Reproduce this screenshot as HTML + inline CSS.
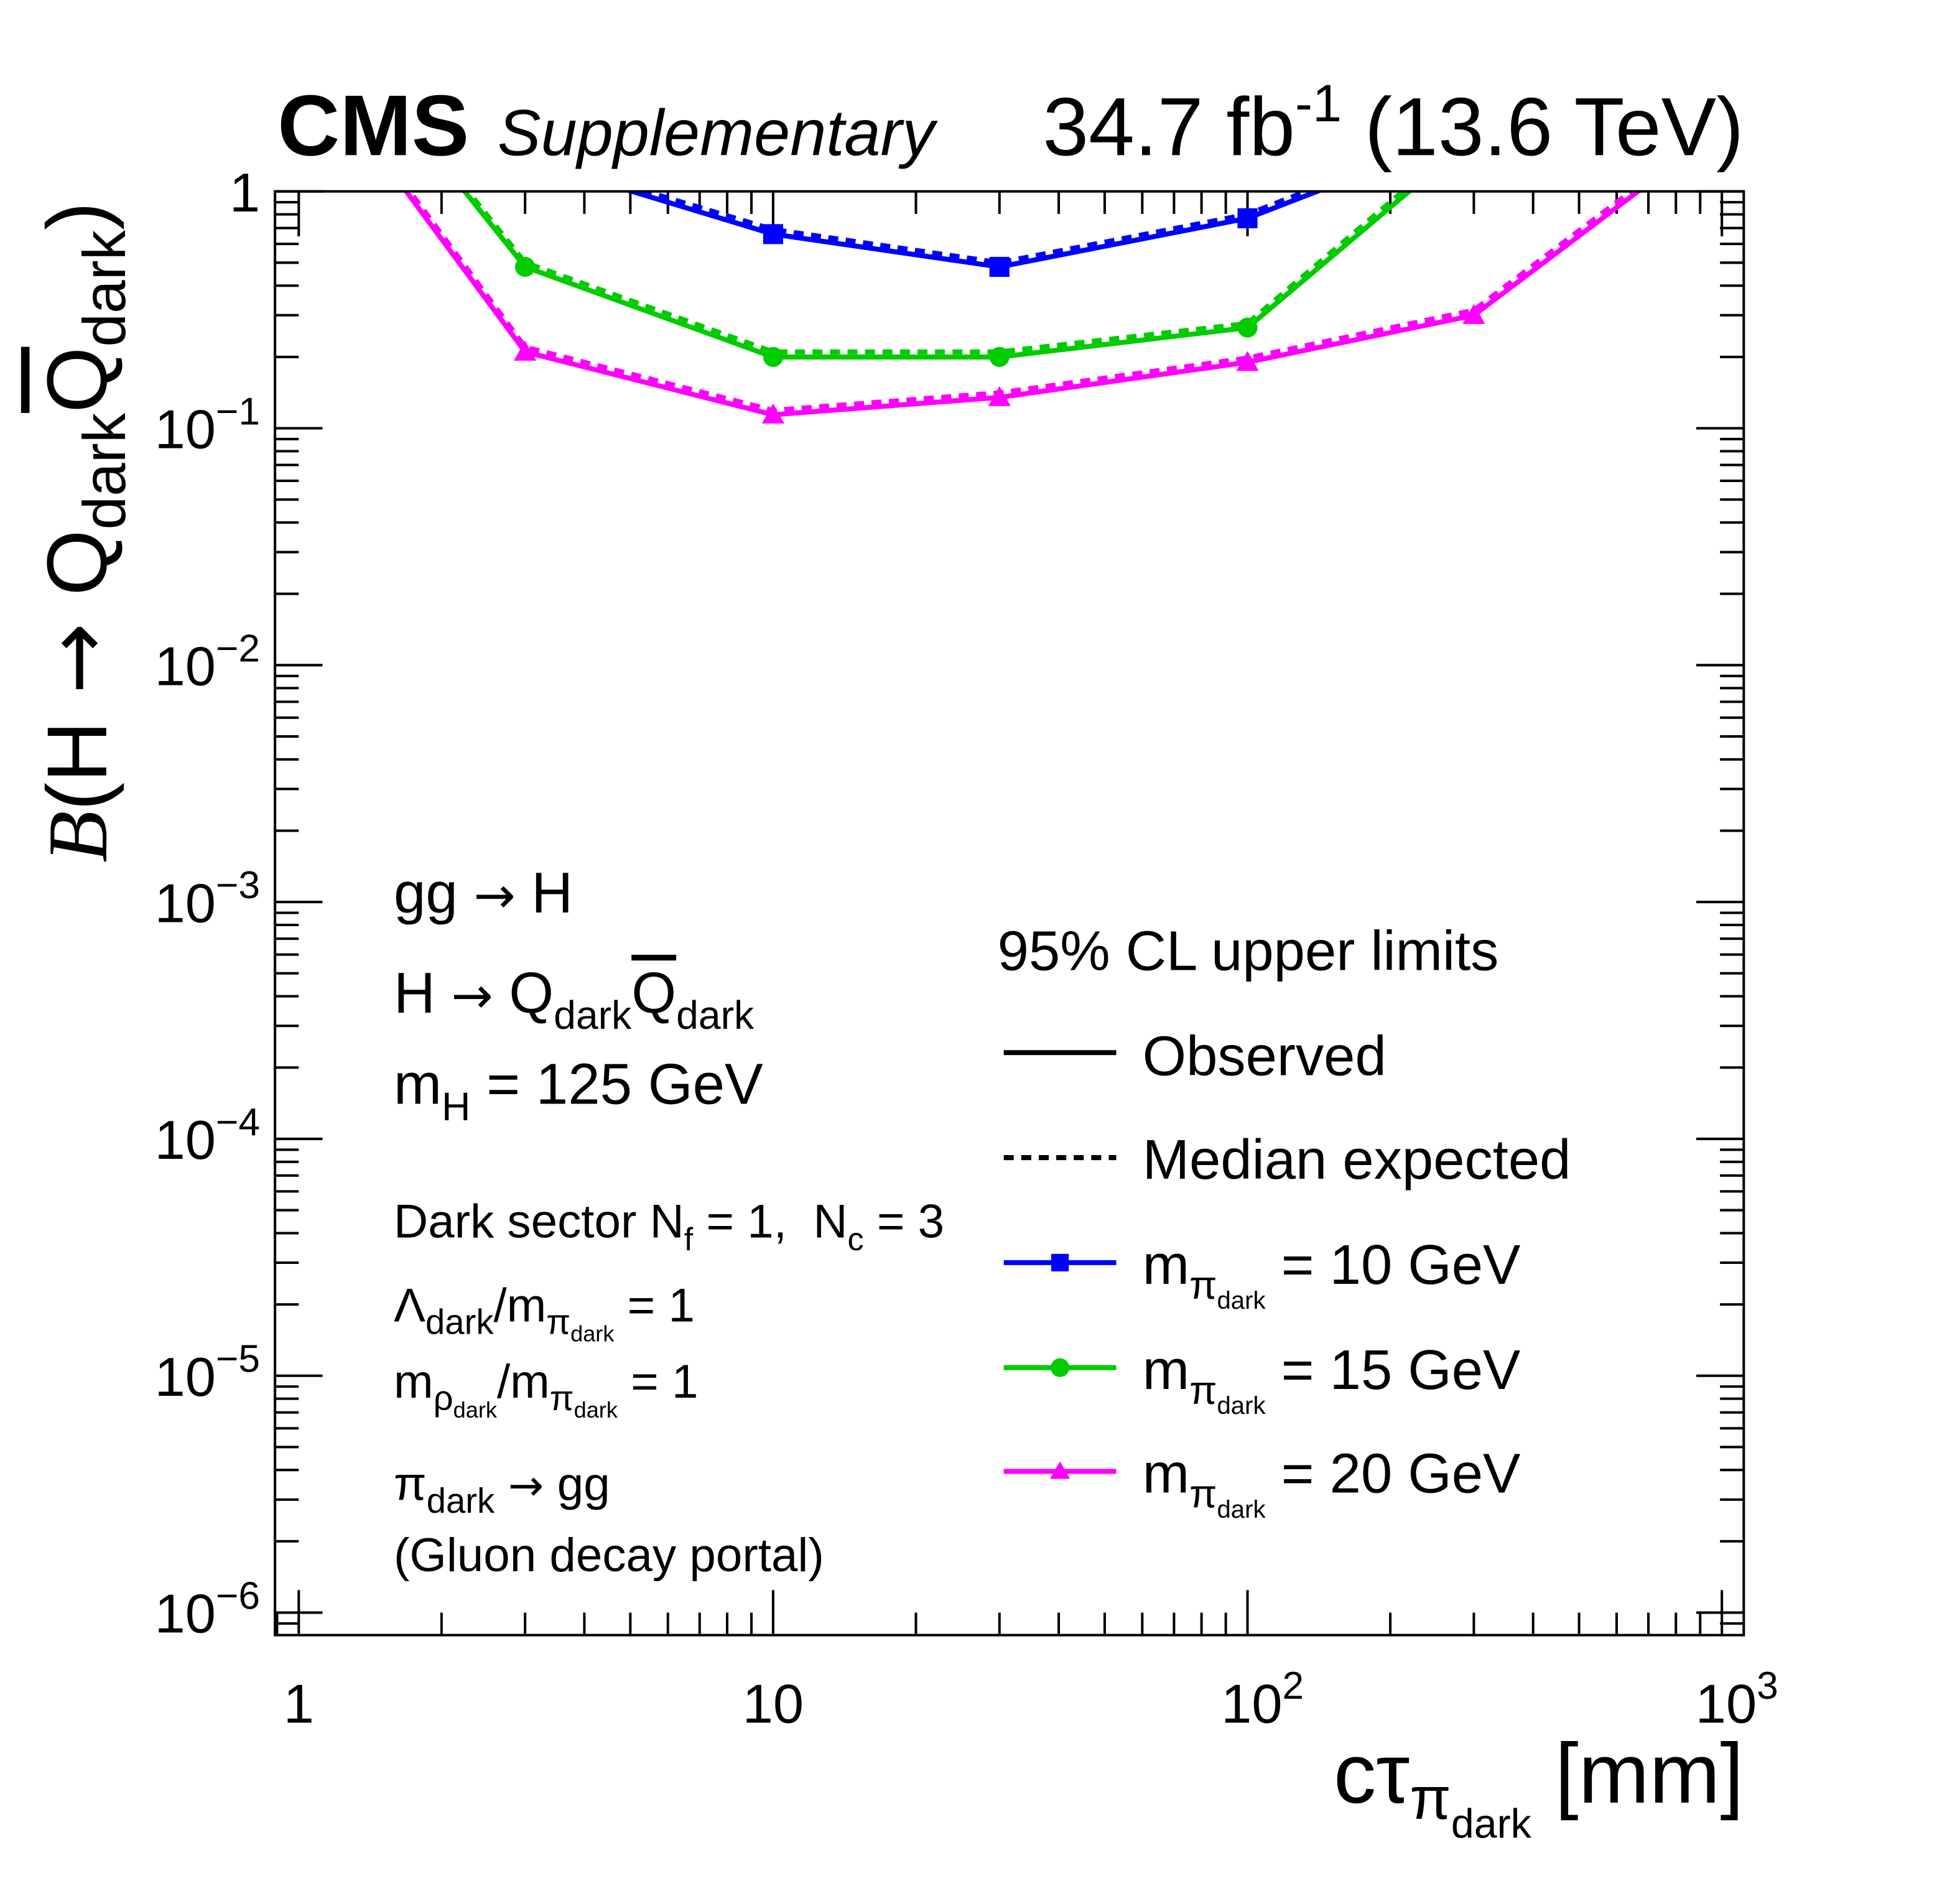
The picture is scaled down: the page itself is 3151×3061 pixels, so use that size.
<!DOCTYPE html>
<html><head><meta charset="utf-8"><style>
html,body{margin:0;padding:0;background:#fff;}
svg{display:block;font-family:"Liberation Sans",sans-serif;}
.ar{font-family:"DejaVu Sans",sans-serif;}
</style></head><body>
<svg id="chart" width="3151" height="3061" viewBox="0 0 1568 1523" xmlns="http://www.w3.org/2000/svg">
<defs><clipPath id="clip"><rect x="220" y="153" width="1175" height="1155"/></clipPath></defs>
<g id="ticks"></g>
<g id="series" clip-path="url(#clip)"></g>
<rect x="220" y="153" width="1175" height="1155" fill="none" stroke="#000" stroke-width="2"/>
<g id="labels" font-size="44"></g>

<text x="222" y="124" font-size="69" font-weight="bold">CMS</text>
<text x="398" y="124" font-size="52" font-style="italic">Supplementary</text>
<text x="1395" y="124" font-size="66" text-anchor="end">34.7 fb<tspan dy="-27" font-size="42">-1</tspan><tspan dy="27"> (13.6 TeV)</tspan></text>

<text transform="translate(85,690) rotate(-90)" font-size="68"><tspan font-family="Liberation Serif" font-style="italic">B</tspan>(H<tspan class="ar"> → </tspan>Q<tspan dy="15" font-size="48">dark</tspan><tspan dy="-15" text-decoration="overline">Q</tspan><tspan dy="15" font-size="48">dark</tspan><tspan dy="-15">)</tspan></text>
<text x="1395" y="1442" font-size="68" text-anchor="end">cτ<tspan dy="13" font-size="48">π</tspan><tspan dy="15" font-size="33">dark</tspan><tspan dy="-28"> [mm]</tspan></text>

<g font-size="46">
<text x="315" y="730">gg<tspan class="ar" font-size="40"> → </tspan>H</text>
<text x="315" y="810">H<tspan class="ar" font-size="40"> → </tspan>Q<tspan dy="13" font-size="32">dark</tspan><tspan dy="-13" text-decoration="overline">Q</tspan><tspan dy="13" font-size="32">dark</tspan></text>
<text x="315" y="883">m<tspan dy="13" font-size="32">H</tspan><tspan dy="-13"> = 125 GeV</tspan></text>
<g font-size="38">
<text x="315" y="990">Dark sector N<tspan dy="10" font-size="26">f</tspan><tspan dy="-10" xml:space="preserve"> = 1,  N</tspan><tspan dy="10" font-size="26">c</tspan><tspan dy="-10"> = 3</tspan></text>
<text x="315" y="1057">Λ<tspan dy="10" font-size="28">dark</tspan><tspan dy="-10">/m</tspan><tspan dy="10" font-size="28">π</tspan><tspan dy="6" font-size="18">dark</tspan><tspan dy="-16"> = 1</tspan></text>
<text x="315" y="1118">m<tspan dy="10" font-size="28">ρ</tspan><tspan dy="6" font-size="18">dark</tspan><tspan dy="-16">/m</tspan><tspan dy="10" font-size="28">π</tspan><tspan dy="6" font-size="18">dark</tspan><tspan dy="-16"> = 1</tspan></text>
<text x="315" y="1200">π<tspan dy="10" font-size="28">dark</tspan><tspan dy="-10" class="ar" font-size="34"> → </tspan>gg</text>
<text x="315" y="1257">(Gluon decay portal)</text>
</g></g>

<g font-size="45">
<text x="798" y="776">95% CL upper limits</text>
<g><line x1="803" y1="842" x2="893" y2="842" stroke="#000" stroke-width="4"/><text x="914" y="860">Observed</text></g>
<g><line x1="803" y1="926" x2="893" y2="926" stroke="#000" stroke-width="4" stroke-dasharray="8,6"/><text x="914" y="943">Median expected</text></g>
<g><line x1="803" y1="1010" x2="893" y2="1010" stroke="#0000ff" stroke-width="4"/><rect x="841" y="1003" width="14" height="14" fill="#0000ff"/><text x="914" y="1027">m<tspan dy="12" font-size="32">π</tspan><tspan dy="8" font-size="20">dark</tspan><tspan dy="-20"> = 10 GeV</tspan></text></g>
<g><line x1="803" y1="1094" x2="893" y2="1094" stroke="#00cc00" stroke-width="4"/><circle cx="848" cy="1094" r="7.5" fill="#00cc00"/><text x="914" y="1111">m<tspan dy="12" font-size="32">π</tspan><tspan dy="8" font-size="20">dark</tspan><tspan dy="-20"> = 15 GeV</tspan></text></g>
<g><line x1="803" y1="1177" x2="893" y2="1177" stroke="#ff00ff" stroke-width="4"/><path d="M848,1169 L856,1183 L840,1183 Z" fill="#ff00ff"/><text x="914" y="1194">m<tspan dy="12" font-size="32">π</tspan><tspan dy="8" font-size="20">dark</tspan><tspan dy="-20"> = 20 GeV</tspan></text></g>
</g>

<script>
const ctau = [1, 3, 10, 30, 100, 300, 1000];
const obs10 = [5.0, 1.37, 0.66, 0.48, 0.77, 1.8, 4.0];
const exp10 = [5.2, 1.42, 0.69, 0.50, 0.80, 1.9, 4.2];
const obs15 = [7.5, 0.48, 0.20, 0.20, 0.266, 1.7, 8.0];
const exp15 = [7.8, 0.50, 0.21, 0.21, 0.277, 1.8, 8.4];
const obs20 = [4.1, 0.21, 0.114, 0.135, 0.19, 0.30, 1.85];
const exp20 = [4.3, 0.22, 0.119, 0.141, 0.198, 0.315, 1.95];
const markX10 = [10, 30, 100];
const markX15 = [3, 10, 30, 100];
const markX20 = [3, 10, 30, 100, 300];
const xTickLabels = ["1", "10", "10^2", "10^3"];
const yTickLabels = ["1", "10^-1", "10^-2", "10^-3", "10^-4", "10^-5", "10^-6"];

const NS = "http://www.w3.org/2000/svg";
const X0 = 239, XD = 379.5, Y0 = 153, YD = 189.5;
const L = 220, R = 1395, T = 153, B = 1308;
function sx(v){ return X0 + XD*Math.log10(v); }
function sy(v){ return Y0 - YD*Math.log10(v); }
function mk(tag, attrs, parent){ const e=document.createElementNS(NS,tag); for(const k in attrs) e.setAttribute(k,attrs[k]); parent.appendChild(e); return e; }

const tg = document.getElementById('ticks');
for (let d=0; d<=3; d++){
  for (let m=1; m<=9; m++){
    const v = m*Math.pow(10,d);
    const x = sx(v);
    if (x < L || x > R) continue;
    const len = m===1 ? 36 : 18;
    const t1 = mk('line',{x1:x,y1:B,x2:x,y2:B-len,stroke:'#000','stroke-width':2},tg);
    
    
    mk('line',{x1:x,y1:T,x2:x,y2:T+len,stroke:'#000','stroke-width':2},tg);
  }
}
{ const x=sx(0.9); if(x>=L){ mk('line',{x1:x,y1:B,x2:x,y2:B-18,stroke:'#000','stroke-width':2},tg);} }
for (let d=-7; d<=0; d++){
  for (let m=1; m<=9; m++){
    const v = m*Math.pow(10,d);
    const y = sy(v);
    if (y < T-0.5 || y > B) continue;
    const len = m===1 ? 38 : 19;
    const t2 = mk('line',{x1:L,y1:y,x2:L+len,y2:y,stroke:'#000','stroke-width':2},tg);
    
    
    mk('line',{x1:R,y1:y,x2:R-len,y2:y,stroke:'#000','stroke-width':2},tg);
  }
}

const lg = document.getElementById('labels');
function powLabel(parent, s, x, y, anchor){
  const t = mk('text',{x:x,y:y,'text-anchor':anchor},parent);
  const p = s.split('^');
  t.textContent = p[0];
  if (p.length>1){
    const sp = mk('tspan',{dy:-19,'font-size':31},t);
    sp.textContent = p[1].replace('-','−');
  }
  return t;
}
xTickLabels.forEach((s,i)=>{
  const x = sx(Math.pow(10,i));
  const t = powLabel(lg, s, x + (s.includes('^')?12:0), 1378, 'middle');
  
  
});
yTickLabels.forEach((s,i)=>{
  const y = sy(Math.pow(10,-i));
  const t = powLabel(lg, s, 208, y+16, 'end');
  
  
});

const sg = document.getElementById('series');
function line(vals, color, dashed, name){
  const pts = ctau.map((c,i)=>sx(c).toFixed(1)+','+sy(vals[i]).toFixed(1)).join(' ');
  const p = mk('polyline',{points:pts,fill:'none',stroke:color,'stroke-width':4},sg);
  if (dashed) p.setAttribute('stroke-dasharray','8,6');
  
  
}
function markers(xs, vals, color, shape, name){
  xs.forEach(c=>{
    const v = vals[ctau.indexOf(c)];
    const x = sx(c), y = sy(v);
    let e;
    if (shape==='sq') e = mk('rect',{x:x-8,y:y-8,width:16,height:16,fill:color},sg);
    else if (shape==='c') e = mk('circle',{cx:x,cy:y,r:8,fill:color},sg);
    else e = mk('path',{d:`M${x},${y-9} L${x+9},${y+7} L${x-9},${y+7} Z`,fill:color},sg);
    
    
  });
}
line(exp20,'#ff00ff',true,'expected-line-mpi20');
line(obs20,'#ff00ff',false,'observed-line-mpi20');
line(exp15,'#00cc00',true,'expected-line-mpi15');
line(obs15,'#00cc00',false,'observed-line-mpi15');
line(exp10,'#0000ff',true,'expected-line-mpi10');
line(obs10,'#0000ff',false,'observed-line-mpi10');
markers(markX20, obs20, '#ff00ff','t','marker-mpi20');
markers(markX15, obs15, '#00cc00','c','marker-mpi15');
markers(markX10, obs10, '#0000ff','sq','marker-mpi10');
</script>
</svg>
</body></html>
